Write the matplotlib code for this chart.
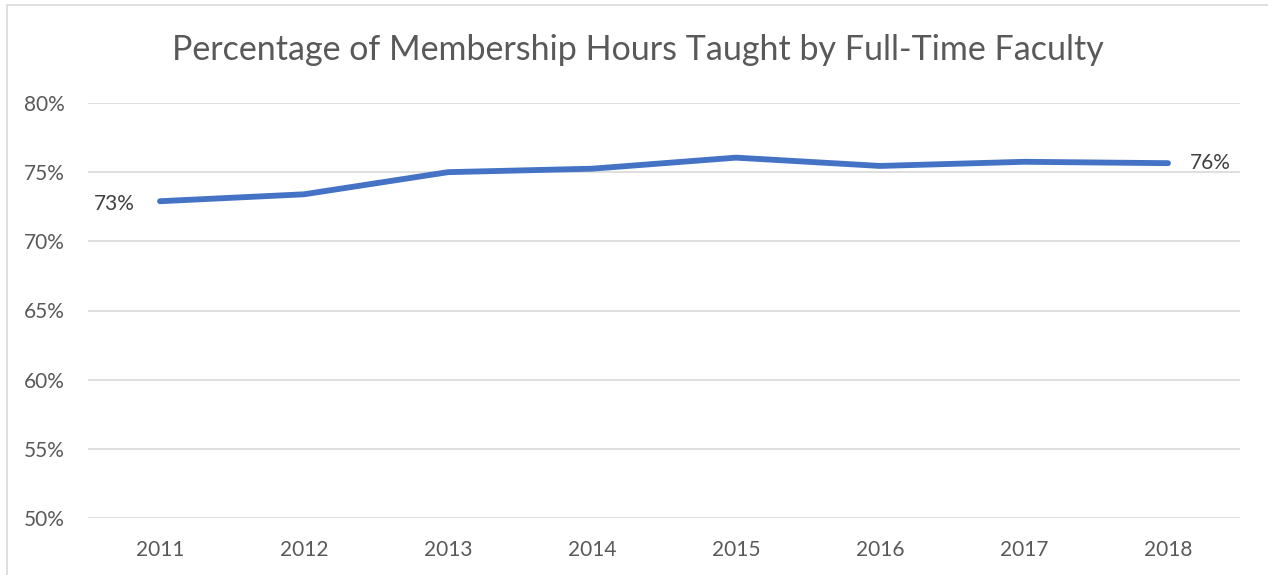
import matplotlib
matplotlib.use("Agg")
import matplotlib.pyplot as plt
from matplotlib.patches import Rectangle

years = ["2011", "2012", "2013", "2014", "2015", "2016", "2017", "2018"]
values = [72.9, 73.4, 75.0, 75.25, 76.05, 75.45, 75.75, 75.65]
yticks = [50, 55, 60, 65, 70, 75, 80]
first_label = "73%"
last_label = "76%"
title = "Percentage of Membership Hours Taught by Full-Time Faculty"

plt.rcParams['font.family'] = ['Lato', 'DejaVu Sans']
W, H = 1268, 575
fig = plt.figure(figsize=(W / 100, H / 100), dpi=100)
ax = fig.add_axes([88 / W, 1 - 518 / H, (1240 - 88) / W, (518 - 103) / H])

# chart-area border
fig.patches.append(Rectangle((6.5 / W, -0.1), 1.2, 1 - 4.5 / H + 0.1,
                             transform=fig.transFigure, fill=False,
                             edgecolor="#d9d9d9", linewidth=1.2))

x = list(range(len(years)))
ax.plot(x, values, color="#4472C4", linewidth=4.2, solid_capstyle="round",
        solid_joinstyle="round", zorder=3)

ax.set_xlim(-0.5, len(years) - 0.5)
ax.set_ylim(50, 80)
ax.set_yticks(yticks)
ax.set_yticklabels([f"{v}%" for v in yticks])
ax.set_xticks(x)
ax.set_xticklabels(years)
ax.grid(axis="y", color="#d9d9d9", linewidth=1.2)
ax.set_axisbelow(True)
for s in ax.spines.values():
    s.set_visible(False)
ax.tick_params(length=0, colors="#595959", labelsize=15)
ax.tick_params(axis="y", pad=17)
ax.tick_params(axis="x", pad=16)

ax.annotate(first_label, (x[0], values[0]), xytext=(-18, -2), textcoords="offset points",
            ha="right", va="center", fontsize=15, color="#404040")
ax.annotate(last_label, (x[-1], values[-1]), xytext=(16, 0), textcoords="offset points",
            ha="left", va="center", fontsize=15, color="#404040")

fig.text(638 / W, 1 - 50 / H, title, ha="center", va="center",
         fontsize=24.5, color="#595959")

fig.savefig("out.png", dpi=100, facecolor="white")
